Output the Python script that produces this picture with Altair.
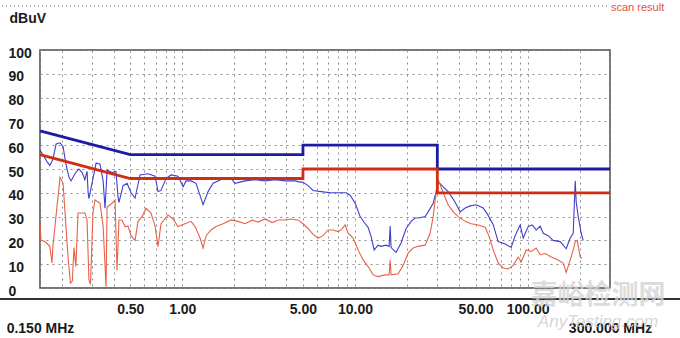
import altair as alt
import pandas as pd

# ---- limit lines (frequency in MHz, level in dBuV) ----
qp_limit_freq = [0.15, 0.5, 5.0, 5.0, 30.0, 30.0, 300.0]
qp_limit_level = [66, 56, 56, 60, 60, 50, 50]
av_limit_freq = [0.15, 0.5, 5.0, 5.0, 30.0, 30.0, 300.0]
av_limit_level = [56, 46, 46, 50, 50, 40, 40]

# ---- peak (blue) scan trace ----
peak_freq = [0.150, 0.156, 0.165, 0.171, 0.178, 0.186, 0.196, 0.204, 0.212, 0.221,
             0.227, 0.239, 0.252, 0.263, 0.273, 0.281, 0.285, 0.288, 0.300, 0.317,
             0.334, 0.348, 0.357, 0.367, 0.392, 0.413, 0.425, 0.430, 0.454, 0.479,
             0.505, 0.533, 0.569, 0.634, 0.696, 0.724, 0.753, 0.805, 0.861, 0.945,
             1.011, 1.052, 1.124, 1.202, 1.320, 1.411, 1.508, 1.612, 1.723, 1.917,
             2.022, 2.311, 2.641, 3.018, 3.448, 3.940, 4.503, 4.813, 4.98, 5.355,
             5.724, 6.369, 7.182, 8.317, 8.891, 9.378, 10.03, 10.72, 11.46, 11.92,
             12.41, 12.92, 13.62, 14.18, 15.16, 15.78, 15.99, 16.20, 17.32, 18.52,
             19.79, 21.16, 22.32, 23.86, 25.50, 26.55, 28.38, 29.53, 30.33, 32.43,
             34.66, 38.06, 40.68, 43.49, 46.49, 50.36, 55.29, 59.10, 63.18, 67.53,
             74.16, 80.32, 84.73, 90.58, 94.28, 100.8, 106.3, 112.1, 118.3, 123.1,
             131.6, 140.6, 154.4, 167.3, 176.5, 183.7, 188.7, 191.2, 196.4, 204.3,
             209.8]
peak_level = [58, 56, 53, 51.5, 54, 60.5, 61, 59.5, 52, 46.5,
              45, 48, 50, 48.5, 45.5, 49, 40, 37.5, 44, 52.5,
              52, 45, 33.5, 49.5, 48.5, 49, 38, 36, 43, 44,
              40, 37.8, 47.5, 48, 47, 40.5, 41, 46, 47.5, 47,
              42.5, 45, 45, 44, 35, 40.5, 44, 45, 46, 46,
              44, 45, 45.5, 45, 45.5, 45, 45, 44.5, 44.5, 43,
              41, 40.5, 40, 40, 40, 39, 35.6, 30, 27, 25.5,
              21.6, 16, 18, 17.5, 18, 17.5, 26, 17, 15, 19,
              25, 28, 29.4, 29.5, 30, 32, 35.6, 40.5, 44.7, 42.5,
              40.5, 36, 32, 33.6, 34.5, 35, 33.6, 30.5, 26.6, 19.5,
              18.5, 17, 22, 26.5, 21, 25.8, 26.5, 24.4, 26, 23,
              22, 20, 19.5, 16.5, 21, 23, 45, 36, 30, 23,
              20]

# ---- average (red) scan trace ----
avg_freq = [0.150, 0.152, 0.160, 0.171, 0.176, 0.178, 0.188, 0.196, 0.204, 0.212,
            0.218, 0.225, 0.231, 0.236, 0.242, 0.249, 0.273, 0.281, 0.288, 0.294,
            0.304, 0.312, 0.334, 0.348, 0.362, 0.367, 0.392, 0.408, 0.419, 0.430,
            0.448, 0.466, 0.485, 0.505, 0.533, 0.554, 0.585, 0.617, 0.659, 0.696,
            0.724, 0.753, 0.827, 0.884, 0.945, 1.038, 1.124, 1.186, 1.268, 1.320,
            1.373, 1.468, 1.569, 1.723, 1.917, 2.105, 2.311, 2.537, 2.748, 3.018,
            3.313, 3.589, 3.940, 4.268, 4.686, 5.009, 5.355, 5.724, 6.119, 6.541,
            6.993, 7.475, 7.991, 8.317, 8.773, 9.131, 9.761, 10.43, 11.15, 11.92,
            12.75, 13.62, 14.96, 15.78, 15.99, 16.20, 17.79, 19.02, 20.33, 21.73,
            23.23, 25.51, 25.85, 27.26, 28.38, 29.15, 29.93, 30.54, 32.43, 34.66,
            37.05, 39.61, 43.49, 47.11, 51.72, 56.78, 59.90, 63.18, 67.53, 72.20,
            77.18, 82.49, 88.18, 91.79, 98.13, 104.9, 112.1, 118.3, 126.5, 136.9,
            150.3, 160.7, 167.3, 176.5, 183.7, 188.7, 193.8, 201.6, 207.0]
avg_level = [27, 20, 19.5, 17.5, 10.5, 17, 34, 46.5, 44, 26,
             13, 2, 3, 17, 9, 31.5, 31.5, 28.5, 3.5, 1.5,
             31.5, 37, 35.6, 26, 0.5, 34, 35.6, 37, 7.5, 28.6,
             28.6, 25.8, 26, 22, 20, 28, 30, 33.5, 31.5, 26,
             17.4, 27, 30.7, 29, 25.8, 27, 28, 25.8, 21, 16.8,
             22, 24.4, 25.8, 27, 28.6, 28, 27, 28.5, 27.7, 29,
             27.5, 28.6, 28.6, 29, 28.6, 27, 25, 22.5, 21, 22,
             24.4, 24.4, 23.7, 24.4, 26.5, 23, 21, 16, 11.8, 9,
             5.5, 4.8, 5.5, 5.5, 11.8, 5.5, 6, 9.5, 14.7, 16.8,
             17.5, 18, 19, 23, 30, 37, 42.5, 45, 40, 35,
             32, 30, 28, 27, 26.5, 25.5, 21.6, 16, 10.5, 8.4,
             8, 9.5, 13, 11, 16, 15.4, 16.8, 14, 14.5, 13,
             11.8, 10.5, 6.5, 11.8, 16, 19.5, 20, 13, 12.5]

# ---- axes ----
grid_freqs = [0.15, 0.2, 0.3, 0.4, 0.5, 0.6, 0.7, 0.8, 0.9,
              1, 2, 3, 4, 5, 6, 7, 8, 9,
              10, 20, 30, 40, 50, 60, 70, 80, 90,
              100, 200, 300]
level_ticks = [0, 10, 20, 30, 40, 50, 60, 70, 80, 90, 100]
label_freqs = [0.15, 0.5, 1, 5, 10, 50, 100, 300]
label_texts = ["0.150 MHz", "0.50", "1.00", "5.00", "10.00", "50.00", "100.00", "300.000 MHz"]

series_names = ["QP limit", "AV limit", "Peak", "Average"]
series_colors = ["#1c1ca2", "#d42c12", "#3434cc", "#e8583f"]

FONT = "Liberation Sans, Arial, sans-serif"

rows = []
for name, fs, ls in [("QP limit", qp_limit_freq, qp_limit_level),
                     ("AV limit", av_limit_freq, av_limit_level),
                     ("Peak", peak_freq, peak_level),
                     ("Average", avg_freq, avg_level)]:
    for i, (f, v) in enumerate(zip(fs, ls)):
        rows.append({"series": name, "freq": f, "level": v, "idx": i})
df = pd.DataFrame(rows)

# label expression: bottom-row labels (with unit) are pushed to a second line
label_expr = "''"
for f, t in reversed(list(zip(label_freqs, label_texts))):
    txt = "['', '%s']" % t if "MHz" in t else "'%s'" % t
    label_expr = "abs(datum.value - %s) < 1e-6 ? %s : (%s)" % (f, txt, label_expr)

x_scale = alt.Scale(type="log", domain=[0.15, 300], nice=False)
y_scale = alt.Scale(domain=[0, 100], nice=False, zero=False)

grid_style = dict(grid=True, gridDash=[2, 4], gridColor="#8c8c8c", gridWidth=1,
                  ticks=False, domain=False)

x_axis = alt.Axis(values=grid_freqs, labelExpr=label_expr, title=None,
                  labelPadding=14, labelBaseline="top", labelLineHeight=19,
                  labelFont=FONT, labelFontSize=14, labelFontWeight="bold",
                  labelColor="#1a1a1a", labelFlush=False, labelOverlap=False,
                  labelBound=False, **grid_style)
y_axis = alt.Axis(values=level_ticks, labelAlign="left", labelPadding=32,
                  labelBaseline="middle", labelOffset=3, labelFont=FONT,
                  labelFontSize=14, labelFontWeight="bold", labelColor="#1a1a1a",
                  title="dBuV", titleAngle=0, titleX=-31, titleY=-32,
                  titleAlign="left", titleBaseline="middle", titleFont=FONT,
                  titleFontSize=14, titleFontWeight="bold", titleColor="#1a1a1a",
                  labelFlush=False, **grid_style)

base = alt.Chart(df).encode(
    x=alt.X("freq:Q", scale=x_scale, axis=x_axis),
    y=alt.Y("level:Q", scale=y_scale, axis=y_axis),
    color=alt.Color("series:N", scale=alt.Scale(domain=series_names, range=series_colors),
                    legend=None),
    detail="series:N",
    order="idx:Q",
)

traces = base.transform_filter(
    alt.FieldOneOfPredicate(field="series", oneOf=["Peak", "Average"])
).mark_line(strokeWidth=1.1, opacity=0.95)

limits = base.transform_filter(
    alt.FieldOneOfPredicate(field="series", oneOf=["QP limit", "AV limit"])
).mark_line(strokeWidth=2.8)

# decorations: dotted header line with caption, image border, watermark
deco_df = pd.DataFrame({"k": [0]})
header_rule = alt.Chart(deco_df).mark_rule(color="#6a6a6a", strokeDash=[1, 3], strokeWidth=1).encode(
    x=alt.value(-38), x2=alt.value(567), y=alt.value(-44))
header_text = alt.Chart(pd.DataFrame({"t": ["scan result"]})).mark_text(
    font=FONT, fontSize=11, color="#e05040", align="left", baseline="middle"
).encode(x=alt.value(571), y=alt.value(-42), text="t:N")
bottom_border = alt.Chart(deco_df).mark_rule(color="#333333", strokeWidth=2).encode(
    x=alt.value(-40), x2=alt.value(640), y=alt.value(249))
wm1 = alt.Chart(pd.DataFrame({"t": ["嘉峪检测网"]})).mark_text(
    font="Noto Sans CJK SC", fontSize=27, color="#d4d4d4", opacity=0.8, fontWeight="bold"
).encode(x=alt.value(558), y=alt.value(246), text="t:N")
wm2 = alt.Chart(pd.DataFrame({"t": ["AnyTesting.com"]})).mark_text(
    font="Liberation Sans", fontSize=17, fontStyle="italic", color="#d0d0d0", opacity=0.85
).encode(x=alt.value(558), y=alt.value(272), text="t:N")

chart = alt.layer(traces, limits, header_rule, header_text, bottom_border, wm1, wm2).properties(
    width=570, height=238,
    autosize=alt.AutoSizeParams(type="none"),
    padding={"left": 40, "top": 50, "right": 70, "bottom": 50},
    background="white",
).configure_view(stroke="#4a4a4a", strokeWidth=1.5)

chart.save("out.html", embed_options={"renderer": "svg", "actions": False})
